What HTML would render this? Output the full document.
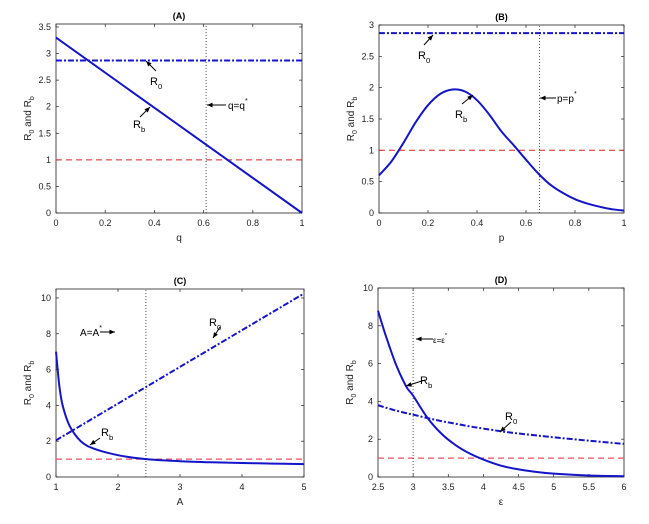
<!DOCTYPE html>
<html><head><meta charset="utf-8"><style>
body{margin:0;background:#fff}
svg{display:block;font-family:"Liberation Sans",sans-serif}
</style></head><body>
<svg id="s" width="649" height="524"></svg>
<script>
// Panel A data
const qVals=[0,1]; const rbA=[3.3,0]; const r0A=2.87; const qStar=0.61;
// Panel B data
const pVals=[0,0.05,0.1,0.15,0.2,0.25,0.3,0.35,0.4,0.45,0.5,0.55,0.6,0.65,0.7,0.75,0.8,0.85,0.9,0.95,1];
const rbB=[0.6,0.82,1.12,1.45,1.72,1.9,1.97,1.94,1.8,1.57,1.3,1.08,0.85,0.63,0.45,0.32,0.22,0.15,0.1,0.06,0.04];
const r0B=2.87; const pStar=0.655;
// Panel C data
const aVals=[1,1.05,1.1,1.2,1.3,1.4,1.5,1.6,1.8,2,2.2,2.45,2.7,3,3.5,4,4.5,5];
const rbC=[7,5.2,4.1,3.0,2.4,2.0,1.75,1.6,1.38,1.22,1.1,1.0,0.94,0.88,0.82,0.78,0.75,0.72];
const r0CStart=2.05, r0CEnd=10.25; const aStar=2.45;
// Panel D data
const eVals=[2.5,2.6,2.75,2.9,3,3.2,3.4,3.6,3.8,4,4.25,4.5,4.75,5,5.5,6];
const rbD=[8.8,7.6,6.0,4.8,4.3,3.15,2.3,1.7,1.25,0.92,0.6,0.4,0.27,0.18,0.08,0.04];
const r0D=[3.8,3.68,3.52,3.38,3.3,3.12,2.96,2.82,2.68,2.56,2.42,2.3,2.2,2.1,1.92,1.75];
const eStar=3;
const ticksA=[0,0.5,1,1.5,2,2.5,3,3.5], ticksB=[0,0.5,1,1.5,2,2.5,3], ticksC=[0,2,4,6,8,10], ticksD=[0,2,4,6,8,10];
const xtA=[0,0.2,0.4,0.6,0.8,1], xtC=[1,2,3,4,5], xtD=[2.5,3,3.5,4,4.5,5,5.5,6];

const NS="http://www.w3.org/2000/svg", S=document.getElementById('s');
function mk(t,a,p){const e=document.createElementNS(NS,t);for(const k in a)e.setAttribute(k,a[k]);(p||S).appendChild(e);return e;}
function panel(name,box,xd,yd,xt,yt,title,xl){
  const g=mk('g',{});
  
  
  const [L,T,R,B]=box;
  const X=v=>L+(v-xd[0])/(xd[1]-xd[0])*(R-L), Y=v=>B-(v-yd[0])/(yd[1]-yd[0])*(B-T);
  mk('rect',{x:L,y:T,width:R-L,height:B-T,fill:'none',stroke:'#222','stroke-width':0.8},g);
  xt.forEach(v=>{const x=X(v);mk('line',{x1:x,x2:x,y1:B,y2:B-3,stroke:'#222','stroke-width':0.7},g);mk('line',{x1:x,x2:x,y1:T,y2:T+3,stroke:'#222','stroke-width':0.7},g);
    const t=mk('text',{x:x,y:B+13,'font-size':9,'text-anchor':'middle',fill:'#222'},g);t.textContent=v;});
  yt.forEach(v=>{const y=Y(v);mk('line',{x1:L,x2:L+3,y1:y,y2:y,stroke:'#222','stroke-width':0.7},g);mk('line',{x1:R,x2:R-3,y1:y,y2:y,stroke:'#222','stroke-width':0.7},g);
    const t=mk('text',{x:L-5,y:y+3,'font-size':9,'text-anchor':'end',fill:'#222'},g);t.textContent=v;});
  const tt=mk('text',{x:(L+R)/2,y:T-5,'font-size':9,'font-weight':'bold','text-anchor':'middle'},g);tt.textContent=title;
  const xlab=mk('text',{x:(L+R)/2,y:B+28,'font-size':10,'text-anchor':'middle',fill:'#222'},g);xlab.textContent=xl;
  const yl=mk('text',{transform:`translate(${L-25},${(T+B)/2}) rotate(-90)`,'font-size':10,'text-anchor':'middle',fill:'#222'},g);
  yl.innerHTML='R<tspan font-size="7" dy="3">0</tspan><tspan dy="-3"> and R</tspan><tspan font-size="7" dy="3">b</tspan>';
  return {g,X,Y,L,R,T,B};
}
function line(P,xs,ys,style,name){
  const pts=xs.map((x,i)=>[P.X(x),P.Y(ys[i])]);
  let d='M'+pts[0][0].toFixed(1)+','+pts[0][1].toFixed(1);
  for(let i=0;i<pts.length-1;i++){
    const p0=pts[Math.max(0,i-1)],p1=pts[i],p2=pts[i+1],p3=pts[Math.min(pts.length-1,i+2)];
    const c1=[p1[0]+(p2[0]-p0[0])/6,p1[1]+(p2[1]-p0[1])/6],c2=[p2[0]-(p3[0]-p1[0])/6,p2[1]-(p3[1]-p1[1])/6];
    d+=`C${c1[0].toFixed(1)},${c1[1].toFixed(1)} ${c2[0].toFixed(1)},${c2[1].toFixed(1)} ${p2[0].toFixed(1)},${p2[1].toFixed(1)}`;
  }
  const e=mk('path',Object.assign({d:d,fill:'none'},style),P.g);
  
  
}
const solid={stroke:'#1515c8','stroke-width':2}, dashdot={stroke:'#1515c8','stroke-width':2,'stroke-dasharray':'6,2,2,2'},
 red={stroke:'#d42020','stroke-width':1,'stroke-dasharray':'6,4'}, pink={stroke:'#e85060','stroke-width':1.3,'stroke-dasharray':'6,4'}, dot={stroke:'#222','stroke-width':0.8,'stroke-dasharray':'1,2'};
function arrow(P,x1,y1,x2,y2){mk('line',{x1,y1,x2,y2,stroke:'#000','stroke-width':1},P.g);
  const a=Math.atan2(y2-y1,x2-x1),h=6;mk('path',{d:`M${x2},${y2}L${x2-h*Math.cos(a-0.4)},${y2-h*Math.sin(a-0.4)}L${x2-h*Math.cos(a+0.4)},${y2-h*Math.sin(a+0.4)}Z`},P.g);}
function lab(P,x,y,m,s,fs){const t=mk('text',{x,y,'font-size':fs||11},P.g);t.innerHTML=m+(s?`<tspan font-size="${(fs||11)*0.7}" dy="4">${s}</tspan>`:'');}
function labSup(P,x,y,m,fs){const t=mk('text',{x,y,'font-size':fs||10},P.g);t.innerHTML=m+`<tspan font-size="${(fs||10)*0.7}" dy="-6">*</tspan>`;}

// A
let P=panel('panel-a',[56,24,302,213],[0,1],[0,3.556],xtA,ticksA,'(A)','q');
line(P,[0,1],[1,1],red,'threshold-line');
line(P,[qStar,qStar],[0,3.556],dot,'q-star-line');
line(P,[0,1],[r0A,r0A],dashdot,'r0-line');
line(P,qVals,rbA,solid,'rb-line');
arrow(P,156,71,146,61);lab(P,150,85,'R','0');
arrow(P,140,117,150,107);lab(P,133,128,'R','b');
arrow(P,226,105,207,105);labSup(P,228,109,'q=q',10);
// B
P=panel('panel-b',[379,25,624,213],[0,1],[0,3],xtA,ticksB,'(B)','p');
line(P,[0,1],[1,1],red,'threshold-line');
line(P,[pStar,pStar],[0,3],dot,'p-star-line');
line(P,[0,1],[r0B,r0B],dashdot,'r0-line');
line(P,pVals,rbB,solid,'rb-line');
arrow(P,424,45,433,35);lab(P,418,59,'R','0');
arrow(P,462,104,473,95);lab(P,455,118,'R','b');
arrow(P,556,98,540,98);labSup(P,557,102,'p=p',10);
// C
P=panel('panel-c',[56,289,304,477],[1,5],[0,10.5],xtC,ticksC,'(C)','A');
line(P,[1,5],[1,1],pink,'threshold-line');
line(P,[aStar,aStar],[0,10.5],dot,'a-star-line');
line(P,[1,5],[r0CStart,r0CEnd],dashdot,'r0-line');
line(P,aVals,rbC,solid,'rb-line');
arrow(P,100,332,115,332);labSup(P,80,336,'A=A',10);
arrow(P,220,327,213,338);lab(P,209,326,'R','0');
arrow(P,100,438,90,445);lab(P,101,436,'R','b');
// D
P=panel('panel-d',[378,288,624,477],[2.5,6],[0,10],xtD,ticksD,'(D)','\u03b5');
line(P,[2.5,6],[1,1],pink,'threshold-line');
line(P,[eStar,eStar],[0,10],dot,'eps-star-line');
line(P,eVals,r0D,dashdot,'r0-line');
line(P,eVals,rbD,solid,'rb-line');
arrow(P,433,339,416,339);labSup(P,433,343,'\u03b5=\u03b5',8);
arrow(P,425,380,406,386);lab(P,420,384,'R','b');
arrow(P,511,422,500,432);lab(P,505,420,'R','0');
</script>
</body></html>
